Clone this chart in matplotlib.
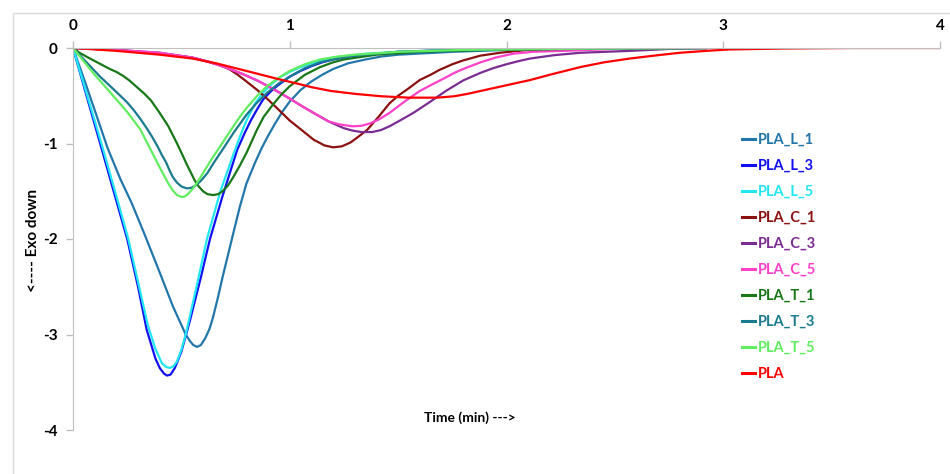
import matplotlib.pyplot as plt
from matplotlib.patches import Rectangle

plt.rcParams['font.family'] = ['Lato', 'DejaVu Sans']
plt.rcParams['axes.unicode_minus'] = False

# DSC cooling traces, time in min vs heat flow
t_L1 = [0, 0.05, 0.1, 0.16, 0.22, 0.27, 0.33, 0.4, 0.46, 0.52, 0.54, 0.555, 0.572, 0.59, 0.61, 0.63,
        0.646, 0.67, 0.69, 0.733, 0.77, 0.8, 0.84, 0.87, 0.9, 0.93, 0.965, 1.0, 1.05, 1.1, 1.15, 1.2,
        1.27, 1.35, 1.42, 1.5, 1.75, 2.0, 2.4, 2.92]
v_L1 = [0, -0.32, -0.65, -1.05, -1.38, -1.62, -1.95, -2.35, -2.7, -3.0, -3.07, -3.11, -3.13, -3.11, -3.04, -2.94,
        -2.82, -2.6, -2.4, -2.0, -1.66, -1.42, -1.2, -1.05, -0.92, -0.8, -0.67, -0.56, -0.44, -0.35, -0.28, -0.22,
        -0.16, -0.12, -0.09, -0.07, -0.04, -0.02, -0.01, 0]

t_L3 = [0, 0.05, 0.1, 0.134, 0.2, 0.25, 0.3, 0.34, 0.38, 0.4, 0.42, 0.434, 0.45, 0.47, 0.5, 0.54,
        0.59, 0.632, 0.69, 0.757, 0.79, 0.82, 0.85, 0.877, 0.91, 0.94, 0.97, 1.0, 1.05, 1.1, 1.15,
        1.2, 1.27, 1.35, 1.5, 1.75, 2.0, 2.5, 2.92]
v_L3 = [0, -0.4, -0.8, -1.07, -1.6, -2.0, -2.5, -2.95, -3.25, -3.35, -3.41, -3.43, -3.42, -3.35, -3.18, -2.85,
        -2.4, -2.0, -1.55, -1.07, -0.9, -0.76, -0.64, -0.54, -0.46, -0.4, -0.35, -0.3, -0.24, -0.19, -0.15,
        -0.12, -0.09, -0.07, -0.04, -0.02, -0.01, 0, 0]

t_L5 = [0, 0.05, 0.1, 0.14, 0.2, 0.255, 0.3, 0.345, 0.38, 0.41, 0.43, 0.447, 0.465, 0.48, 0.5, 0.52,
        0.57, 0.618, 0.68, 0.747, 0.775, 0.8, 0.84, 0.88, 0.92, 0.96, 1.0, 1.05, 1.1, 1.15, 1.2,
        1.35, 1.5, 1.75, 2.0, 2.5, 2.92]
v_L5 = [0, -0.38, -0.76, -1.07, -1.55, -2.0, -2.45, -2.9, -3.15, -3.3, -3.34, -3.35, -3.33, -3.28, -3.16, -3.0,
        -2.5, -2.0, -1.5, -1.07, -0.9, -0.76, -0.58, -0.46, -0.37, -0.3, -0.25, -0.2, -0.16, -0.13, -0.1,
        -0.06, -0.04, -0.02, -0.01, 0, 0]

t_C1 = [0, 0.2, 0.4, 0.55, 0.68, 0.72, 0.76, 0.8, 0.85, 0.9, 0.955, 1.0, 1.05, 1.11, 1.16, 1.2,
        1.24, 1.28, 1.31, 1.356, 1.41, 1.46, 1.5, 1.55, 1.6, 1.65, 1.69, 1.75, 1.8, 1.88, 1.97,
        2.1, 2.3, 2.6, 2.92]
v_C1 = [0, -0.02, -0.06, -0.1, -0.18, -0.22, -0.28, -0.35, -0.44, -0.54, -0.66, -0.76, -0.85, -0.96, -1.02, -1.04,
        -1.03, -0.99, -0.94, -0.86, -0.72, -0.58, -0.5, -0.42, -0.335, -0.28, -0.23, -0.17, -0.13, -0.08, -0.05,
        -0.02, -0.01, 0, 0]

t_C3 = [0, 0.2, 0.4, 0.55, 0.62, 0.7, 0.78, 0.85, 0.9, 0.955, 1.0, 1.05, 1.11, 1.18, 1.25, 1.29,
        1.33, 1.38, 1.42, 1.46, 1.5, 1.57, 1.65, 1.72, 1.8, 1.88, 1.94, 2.0, 2.06, 2.11, 2.22,
        2.34, 2.57, 2.75, 2.92]
v_C3 = [0, -0.02, -0.05, -0.1, -0.14, -0.2, -0.27, -0.34, -0.4, -0.47, -0.53, -0.6, -0.68, -0.77, -0.84, -0.865,
        -0.88, -0.88, -0.86, -0.82, -0.77, -0.68, -0.56, -0.45, -0.34, -0.26, -0.21, -0.17, -0.135, -0.11, -0.075,
        -0.05, -0.03, -0.01, 0]

t_C5 = [0, 0.2, 0.4, 0.55, 0.62, 0.7, 0.78, 0.85, 0.9, 0.955, 1.0, 1.05, 1.11, 1.18, 1.23, 1.29,
        1.33, 1.37, 1.41, 1.46, 1.53, 1.6, 1.65, 1.71, 1.76, 1.8, 1.88, 1.95, 2.03, 2.12, 2.26,
        2.5, 2.8, 3.2]
v_C5 = [0, -0.02, -0.05, -0.1, -0.14, -0.2, -0.27, -0.34, -0.4, -0.47, -0.53, -0.6, -0.68, -0.77, -0.8, -0.82,
        -0.815, -0.79, -0.75, -0.68, -0.56, -0.45, -0.39, -0.32, -0.26, -0.22, -0.15, -0.1, -0.06, -0.04, -0.03,
        -0.01, 0, 0]

t_T1 = [0, 0.03, 0.07, 0.12, 0.17, 0.2, 0.23, 0.26, 0.295, 0.33, 0.36, 0.4, 0.44, 0.48, 0.505, 0.525,
        0.545, 0.56, 0.58, 0.6, 0.62, 0.646, 0.67, 0.69, 0.715, 0.74, 0.77, 0.8, 0.85, 0.88, 0.92,
        0.96, 1.0, 1.07, 1.14, 1.2, 1.25, 1.4, 1.6, 1.9, 2.3, 2.92]
v_T1 = [0, -0.05, -0.1, -0.16, -0.22, -0.25, -0.29, -0.34, -0.41, -0.48, -0.55, -0.68, -0.82, -1.0, -1.12, -1.22,
        -1.31, -1.38, -1.45, -1.5, -1.53, -1.54, -1.53, -1.5, -1.44, -1.35, -1.23, -1.1, -0.85, -0.72, -0.6,
        -0.49, -0.4, -0.28, -0.2, -0.15, -0.12, -0.07, -0.04, -0.02, -0.01, 0]

t_T3 = [0, 0.05, 0.125, 0.2, 0.25, 0.28, 0.31, 0.34, 0.365, 0.39, 0.41, 0.43, 0.445, 0.46, 0.48, 0.5,
        0.525, 0.545, 0.565, 0.59, 0.62, 0.65, 0.7, 0.74, 0.8, 0.85, 0.895, 0.95, 1.0, 1.07, 1.14,
        1.22, 1.3, 1.5, 1.8, 2.2, 2.92]
v_T3 = [0, -0.12, -0.3, -0.46, -0.57, -0.65, -0.74, -0.84, -0.93, -1.03, -1.12, -1.2, -1.28, -1.35, -1.41, -1.45,
        -1.47, -1.465, -1.44, -1.39, -1.31, -1.2, -1.03, -0.89, -0.7, -0.57, -0.47, -0.37, -0.3, -0.21, -0.15,
        -0.11, -0.08, -0.04, -0.02, -0.01, 0]

t_T5 = [0, 0.05, 0.1, 0.17, 0.25, 0.31, 0.355, 0.4, 0.44, 0.46, 0.48, 0.5, 0.515, 0.53, 0.55, 0.57,
        0.6, 0.635, 0.67, 0.705, 0.74, 0.77, 0.8, 0.85, 0.895, 0.95, 1.0, 1.07, 1.14, 1.22, 1.3,
        1.5, 1.8, 2.2, 2.92]
v_T5 = [0, -0.14, -0.28, -0.46, -0.67, -0.85, -1.05, -1.25, -1.42, -1.49, -1.54, -1.56, -1.555, -1.53, -1.48, -1.42,
        -1.31, -1.18, -1.06, -0.94, -0.82, -0.72, -0.63, -0.5, -0.4, -0.31, -0.24, -0.17, -0.12, -0.09, -0.07,
        -0.04, -0.02, -0.01, 0]

t_PLA = [0, 0.2, 0.4, 0.55, 0.66, 0.8, 0.955, 1.03, 1.1, 1.19, 1.3, 1.42, 1.55, 1.68, 1.76, 1.82,
         1.88, 1.96, 2.03, 2.11, 2.2, 2.27, 2.34, 2.45, 2.57, 2.7, 2.8, 2.92, 3.03, 3.3, 3.6, 4.0]
v_PLA = [0, -0.03, -0.07, -0.11, -0.16, -0.24, -0.33, -0.37, -0.41, -0.45, -0.48, -0.505, -0.52, -0.52, -0.505, -0.48,
         -0.45, -0.41, -0.375, -0.335, -0.28, -0.24, -0.2, -0.15, -0.11, -0.075, -0.05, -0.03, -0.015, -0.005, 0, 0]

series = [
    ('PLA_L_1', t_L1, v_L1, '#2277AA'),
    ('PLA_L_3', t_L3, v_L3, '#1010F0'),
    ('PLA_L_5', t_L5, v_L5, '#22E6F2'),
    ('PLA_C_1', t_C1, v_C1, '#8B1111'),
    ('PLA_C_3', t_C3, v_C3, '#7B2C93'),
    ('PLA_C_5', t_C5, v_C5, '#FF40C8'),
    ('PLA_T_1', t_T1, v_T1, '#187818'),
    ('PLA_T_3', t_T3, v_T3, '#1B7B8E'),
    ('PLA_T_5', t_T5, v_T5, '#60EE60'),
    ('PLA', t_PLA, v_PLA, '#FF0000'),
]

fig = plt.figure(figsize=(9.5, 4.74), dpi=100)
ax = fig.add_axes([73 / 950, 1 - 430 / 474, 867 / 950, 382 / 474])

for name, t, v, c in series:
    ax.plot(t, v, color=c, lw=1.6, label=name, solid_joinstyle='round')

ax.set_xlim(0, 4)
ax.set_ylim(-4, 0)
ax.set_xticks([0, 1, 2, 3, 4])
ax.set_yticks([0, -1, -2, -3, -4])
ax.xaxis.tick_top()
ax.tick_params(axis='both', color='#BFBFBF', length=5, width=1, labelsize=11, pad=6)
for lab in ax.get_xticklabels() + ax.get_yticklabels():
    lab.set_fontweight('bold')

for side in ['right', 'bottom']:
    ax.spines[side].set_visible(False)
for side in ['top', 'left']:
    ax.spines[side].set_color('#BFBFBF')

ax.text(0.458, 0.032, 'Time (min) --->', transform=ax.transAxes, fontsize=10,
        fontweight='bold', ha='center', va='center')
fig.text(33 / 950, 1 - 240 / 474, '<---- Exo down', rotation=90, fontsize=11,
         fontweight='bold', ha='center', va='center')

leg = ax.legend(loc='upper left', bbox_to_anchor=(729 / 950, 1 - 120 / 474),
                bbox_transform=fig.transFigure, frameon=False,
                handlelength=0.9, handletextpad=0.15, labelspacing=0.82,
                labelcolor='linecolor', prop={'weight': 'bold', 'size': 10.5})
for line in leg.get_lines():
    line.set_linewidth(2.2)

# light frame around the chart area
fig.patches.append(Rectangle((13 / 950, -0.1), 1.2, 1.1 - 13 / 474, transform=fig.transFigure,
                             fill=False, edgecolor='#D9D9D9', lw=1))

fig.savefig('out.png', dpi=100)
